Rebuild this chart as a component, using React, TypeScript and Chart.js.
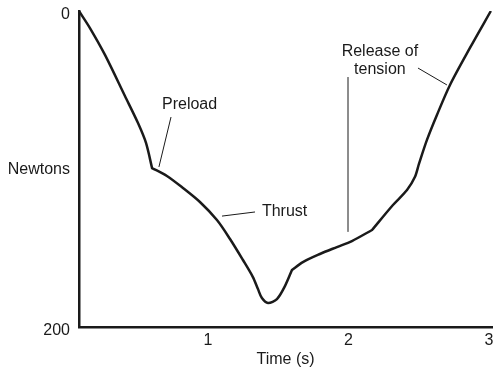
import { useEffect, useRef } from "react";
import { Chart, registerables } from "chart.js";

Chart.register(...registerables);

// Curve (time in s, force in N; axis is reversed: 0 at top, 200 at bottom).
// Kink points (preload, end of dip, start of release) are listed twice for a sharp corner.
const timeS = [
  0.082, 0.16, 0.267, 0.409, 0.502, 0.559, 0.602, 0.602, 0.708, 0.822, 0.943,
  1.064, 1.157, 1.249, 1.32, 1.356, 1.384, 1.427, 1.491, 1.548, 1.598, 1.598,
  1.676, 1.797, 1.918, 2.025, 2.168, 2.168, 2.317, 2.417, 2.473, 2.502, 2.559,
  2.63, 2.723, 2.865, 3.014,
];
const newtons = [
  0, 10.8, 27.8, 53.8, 70.9, 83.5, 99.4, 99.4, 104.4, 112.0, 120.9, 132.3,
  144.3, 157.6, 168.4, 176.0, 181.7, 184.8, 182.3, 174.1, 163.9, 163.9, 158.9,
  153.8, 149.4, 145.6, 138.6, 138.6, 122.8, 113.3, 105.1, 96.8, 81.6, 65.8,
  46.8, 23.4, 0,
];

const xTicks = [1, 2, 3];
const yTicks = [0, 200];
const xMin = 0.082;
const xMax = 3.022;

// Annotation texts (data coords) and leader lines [x1, y1, x2, y2]
const labelTexts = ["Preload", "Thrust", "Release of", "tension"];
const labelX = [0.673, 1.384, 2.224, 2.224];
const labelY = [59.5, 127.2, 26, 37.3];
const labelAlign = ["left", "left", "center", "center"];
const leaders = [
  [0.737, 67.1, 0.651, 98.7],
  [1.1, 129.8, 1.335, 127.2],
  [1.997, 41.8, 1.997, 139.8],
  [2.495, 36.1, 2.701, 46.8],
];
const yTitle = "Newtons";
const yTitleValue = 100.1;

const FONT = "'Liberation Sans', Arial, Helvetica, sans-serif";
const INK = "#1a1a1a";

const annotationPlugin = {
  id: "annotations",
  afterDraw(chart: any) {
    const { ctx, scales, chartArea } = chart;
    const x = scales.x;
    const y = scales.y;
    ctx.save();
    ctx.strokeStyle = INK;
    ctx.lineWidth = 1;
    leaders.forEach((l) => {
      ctx.beginPath();
      ctx.moveTo(x.getPixelForValue(l[0]), y.getPixelForValue(l[1]));
      ctx.lineTo(x.getPixelForValue(l[2]), y.getPixelForValue(l[3]));
      ctx.stroke();
    });
    ctx.fillStyle = INK;
    ctx.font = `16px ${FONT}`;
    ctx.textBaseline = "middle";
    labelTexts.forEach((t, i) => {
      ctx.textAlign = labelAlign[i];
      ctx.fillText(t, x.getPixelForValue(labelX[i]), y.getPixelForValue(labelY[i]));
    });
    ctx.textAlign = "right";
    ctx.fillText(yTitle, chartArea.left - 9, y.getPixelForValue(yTitleValue));
    ctx.restore();
  },
};

export default function App() {
  const ref = useRef<HTMLCanvasElement | null>(null);

  useEffect(() => {
    if (!ref.current) return;
    const chart = new Chart(ref.current, {
      type: "line",
      data: {
        datasets: [
          {
            data: timeS.map((t, i) => ({ x: t, y: newtons[i] })),
            borderColor: INK,
            borderWidth: 2.5,
            pointRadius: 0,
            fill: false,
            tension: 0.3,
          },
        ],
      },
      options: {
        responsive: false,
        animation: false,
        layout: { padding: { top: 11, right: 8, left: 0, bottom: 0 } },
        plugins: {
          legend: { display: false },
          tooltip: { enabled: false },
        },
        scales: {
          x: {
            type: "linear",
            min: xMin,
            max: xMax,
            afterBuildTicks: (s: any) => {
              s.ticks = xTicks.map((v) => ({ value: v }));
            },
            afterFit: (s: any) => {
              s.height = 48;
              s.paddingLeft = 0;
              s.paddingRight = 0;
            },
            grid: { display: false, drawTicks: false },
            border: { display: true, color: INK, width: 2.5 },
            ticks: {
              padding: 4,
              color: INK,
              font: { size: 16, family: FONT },
              maxRotation: 0,
              callback: (v: any) => String(v),
            },
            title: {
              display: true,
              text: "Time (s)",
              color: INK,
              font: { size: 16, family: FONT },
              padding: { top: 0, bottom: 6 },
            },
          },
          y: {
            type: "linear",
            reverse: true,
            min: 0,
            max: 200,
            afterBuildTicks: (s: any) => {
              s.ticks = yTicks.map((v) => ({ value: v }));
            },
            afterFit: (s: any) => {
              s.width = 79;
              s.paddingTop = 0;
              s.paddingBottom = 0;
            },
            grid: { display: false, drawTicks: false },
            border: { display: true, color: INK, width: 2.5 },
            ticks: {
              padding: 9,
              labelOffset: 4,
              color: INK,
              font: { size: 16, family: FONT },
              callback: (v: any) => String(v),
            },
          },
        },
      },
      plugins: [annotationPlugin],
    } as any);
    return () => chart.destroy();
  }, []);

  return (
    <div style={{ position: "fixed", left: 0, top: 0, width: 500, height: 375, background: "#fff" }}>
      <canvas ref={ref} width={500} height={375} />
    </div>
  );
}
